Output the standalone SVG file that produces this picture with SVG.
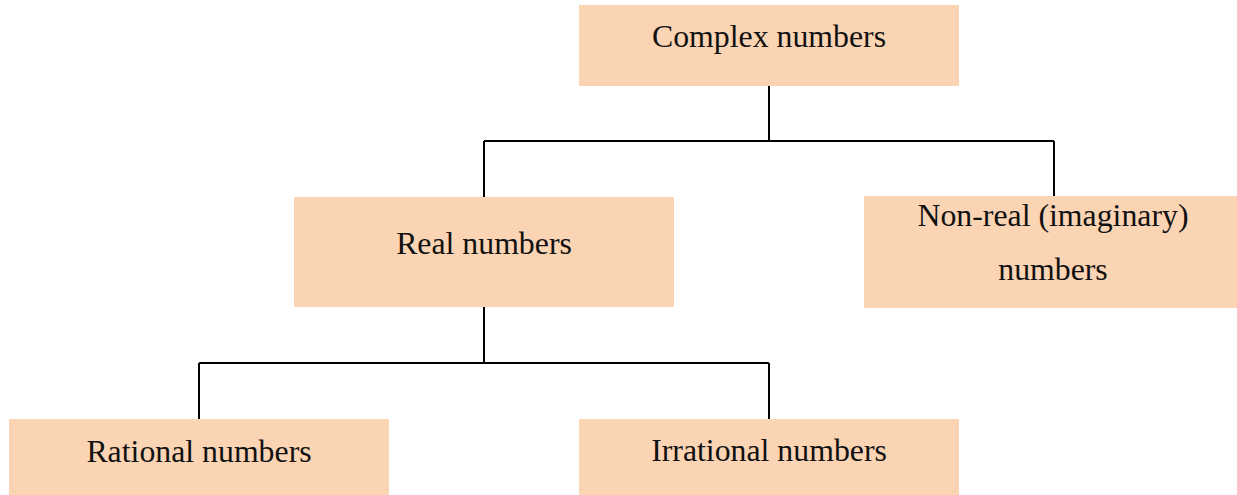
<svg xmlns="http://www.w3.org/2000/svg" width="1237" height="495" viewBox="0 0 1237 495">
<style>
.box{fill:#FBD4B4;}
.lbl{font-family:"Liberation Serif","Times New Roman",serif;font-size:31.8px;fill:#111;text-anchor:middle;}
.conn{fill:none;stroke:#000;stroke-width:2;}
</style>
<rect x="0" y="0" width="1237" height="495" fill="#fff"/>
<g id="connectors">
<path class="conn" d="M769,86 V141 M484,141 H1054 M484,141 V197 M1054,141 V196"/>
<path class="conn" d="M484,307 V363 M199,363 H769 M199,363 V419 M769,363 V419"/>
</g>
<g id="complex">
<rect class="box" x="579" y="5" width="380" height="81"/>
<text class="lbl" x="769" y="47">Complex numbers</text>
</g>
<g id="real">
<rect class="box" x="294" y="197" width="380" height="110"/>
<text class="lbl" x="484" y="254">Real numbers</text>
</g>
<g id="nonreal">
<rect class="box" x="864" y="196" width="373" height="112"/>
<text class="lbl" x="1053" y="226">Non-real (imaginary)</text>
<text class="lbl" x="1053" y="280">numbers</text>
</g>
<g id="rational">
<rect class="box" x="9" y="419" width="380" height="76"/>
<text class="lbl" x="199" y="462">Rational numbers</text>
</g>
<g id="irrational">
<rect class="box" x="579" y="419" width="380" height="76"/>
<text class="lbl" x="769" y="461">Irrational numbers</text>
</g>
</svg>
